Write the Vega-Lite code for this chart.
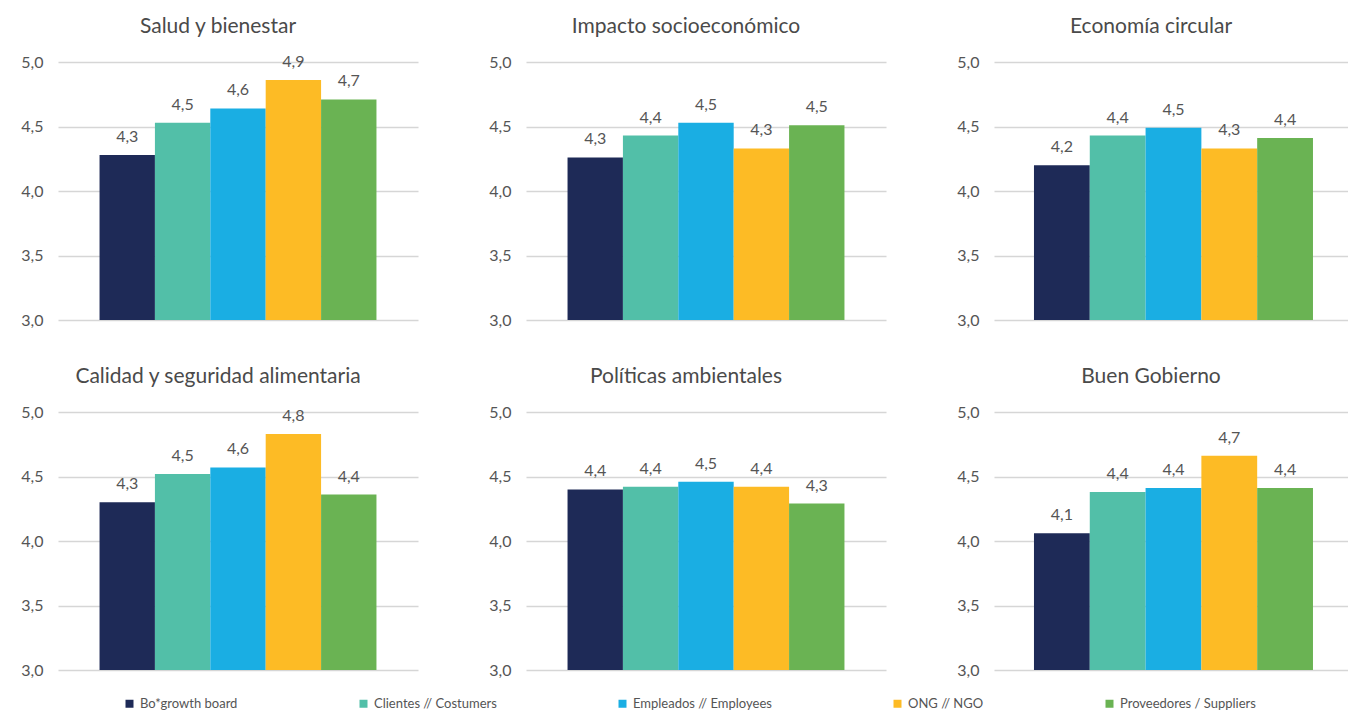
{
  "$schema": "https://vega.github.io/schema/vega-lite/v6.json",
  "padding": {"left": 18, "top": 16, "right": 0, "bottom": 0},
  "background": "#ffffff",
  "data": {
    "values": [
      {"tema": "Salud y bienestar", "grupo": "Bo*growth board", "valor": 4.28},
      {"tema": "Salud y bienestar", "grupo": "Clientes // Costumers", "valor": 4.53},
      {"tema": "Salud y bienestar", "grupo": "Empleados // Employees", "valor": 4.64},
      {"tema": "Salud y bienestar", "grupo": "ONG // NGO", "valor": 4.86},
      {"tema": "Salud y bienestar", "grupo": "Proveedores / Suppliers", "valor": 4.71},
      {"tema": "Impacto socioeconómico", "grupo": "Bo*growth board", "valor": 4.26},
      {"tema": "Impacto socioeconómico", "grupo": "Clientes // Costumers", "valor": 4.43},
      {"tema": "Impacto socioeconómico", "grupo": "Empleados // Employees", "valor": 4.53},
      {"tema": "Impacto socioeconómico", "grupo": "ONG // NGO", "valor": 4.33},
      {"tema": "Impacto socioeconómico", "grupo": "Proveedores / Suppliers", "valor": 4.51},
      {"tema": "Economía circular", "grupo": "Bo*growth board", "valor": 4.2},
      {"tema": "Economía circular", "grupo": "Clientes // Costumers", "valor": 4.43},
      {"tema": "Economía circular", "grupo": "Empleados // Employees", "valor": 4.49},
      {"tema": "Economía circular", "grupo": "ONG // NGO", "valor": 4.33},
      {"tema": "Economía circular", "grupo": "Proveedores / Suppliers", "valor": 4.41},
      {"tema": "Calidad y seguridad alimentaria", "grupo": "Bo*growth board", "valor": 4.3},
      {"tema": "Calidad y seguridad alimentaria", "grupo": "Clientes // Costumers", "valor": 4.52},
      {"tema": "Calidad y seguridad alimentaria", "grupo": "Empleados // Employees", "valor": 4.57},
      {"tema": "Calidad y seguridad alimentaria", "grupo": "ONG // NGO", "valor": 4.83},
      {"tema": "Calidad y seguridad alimentaria", "grupo": "Proveedores / Suppliers", "valor": 4.36},
      {"tema": "Políticas ambientales", "grupo": "Bo*growth board", "valor": 4.4},
      {"tema": "Políticas ambientales", "grupo": "Clientes // Costumers", "valor": 4.42},
      {"tema": "Políticas ambientales", "grupo": "Empleados // Employees", "valor": 4.46},
      {"tema": "Políticas ambientales", "grupo": "ONG // NGO", "valor": 4.42},
      {"tema": "Políticas ambientales", "grupo": "Proveedores / Suppliers", "valor": 4.29},
      {"tema": "Buen Gobierno", "grupo": "Bo*growth board", "valor": 4.06},
      {"tema": "Buen Gobierno", "grupo": "Clientes // Costumers", "valor": 4.38},
      {"tema": "Buen Gobierno", "grupo": "Empleados // Employees", "valor": 4.41},
      {"tema": "Buen Gobierno", "grupo": "ONG // NGO", "valor": 4.66},
      {"tema": "Buen Gobierno", "grupo": "Proveedores / Suppliers", "valor": 4.41}
    ]
  },
  "columns": 3,
  "spacing": {"column": 68, "row": 38},
  "concat": [
    {
      "title": "Salud y bienestar",
      "width": 360, "height": 258,
      "transform": [{"filter": "datum.tema === 'Salud y bienestar'"}],
      "encoding": {
        "x": {"field": "grupo", "type": "nominal", "sort": null, "axis": null, "scale": {"paddingInner": 0, "paddingOuter": 0.75}},
        "y": {"field": "valor", "type": "quantitative", "scale": {"domain": [3, 5], "zero": false}, "axis": {"values": [3, 3.5, 4, 4.5, 5], "format": ".1f", "title": null}}
      },
      "layer": [
        {"mark": "bar", "encoding": {"y2": {"datum": 3}, "color": {"field": "grupo", "type": "nominal", "sort": null,
          "scale": {"domain": ["Bo*growth board", "Clientes // Costumers", "Empleados // Employees", "ONG // NGO", "Proveedores / Suppliers"], "range": ["#1e2a57", "#52bfa8", "#1aaee3", "#fdbb25", "#6ab353"]},
          "legend": {"orient": "none", "legendX": 65, "legendY": 635, "direction": "horizontal", "title": null, "symbolType": "square", "symbolSize": 64, "symbolStrokeWidth": 0, "labelFontSize": 13, "labelColor": "#555555", "labelOffset": 4, "columnPadding": 119}}}},
        {"mark": {"type": "text", "dy": -13, "baseline": "alphabetic"}, "encoding": {"text": {"field": "valor", "type": "quantitative", "format": ".1f"}}}
      ]
    },
    {
      "title": "Impacto socioeconómico",
      "width": 360, "height": 258,
      "transform": [{"filter": "datum.tema === 'Impacto socioeconómico'"}],
      "encoding": {
        "x": {"field": "grupo", "type": "nominal", "sort": null, "axis": null, "scale": {"paddingInner": 0, "paddingOuter": 0.75}},
        "y": {"field": "valor", "type": "quantitative", "scale": {"domain": [3, 5], "zero": false}, "axis": {"values": [3, 3.5, 4, 4.5, 5], "format": ".1f", "title": null}}
      },
      "layer": [
        {"mark": "bar", "encoding": {"y2": {"datum": 3}, "color": {"field": "grupo", "type": "nominal", "sort": null}}},
        {"mark": {"type": "text", "dy": -13, "baseline": "alphabetic"}, "encoding": {"text": {"field": "valor", "type": "quantitative", "format": ".1f"}}}
      ]
    },
    {
      "title": "Economía circular",
      "width": 354, "height": 258,
      "transform": [{"filter": "datum.tema === 'Economía circular'"}],
      "encoding": {
        "x": {"field": "grupo", "type": "nominal", "sort": null, "axis": null, "scale": {"paddingInner": 0, "paddingOuter": 0.672, "align": 0.533}},
        "y": {"field": "valor", "type": "quantitative", "scale": {"domain": [3, 5], "zero": false}, "axis": {"values": [3, 3.5, 4, 4.5, 5], "format": ".1f", "title": null}}
      },
      "layer": [
        {"mark": "bar", "encoding": {"y2": {"datum": 3}, "color": {"field": "grupo", "type": "nominal", "sort": null}}},
        {"mark": {"type": "text", "dy": -13, "baseline": "alphabetic"}, "encoding": {"text": {"field": "valor", "type": "quantitative", "format": ".1f"}}}
      ]
    },
    {
      "title": "Calidad y seguridad alimentaria",
      "width": 360, "height": 258,
      "transform": [{"filter": "datum.tema === 'Calidad y seguridad alimentaria'"}],
      "encoding": {
        "x": {"field": "grupo", "type": "nominal", "sort": null, "axis": null, "scale": {"paddingInner": 0, "paddingOuter": 0.75}},
        "y": {"field": "valor", "type": "quantitative", "scale": {"domain": [3, 5], "zero": false}, "axis": {"values": [3, 3.5, 4, 4.5, 5], "format": ".1f", "title": null}}
      },
      "layer": [
        {"mark": "bar", "encoding": {"y2": {"datum": 3}, "color": {"field": "grupo", "type": "nominal", "sort": null}}},
        {"mark": {"type": "text", "dy": -13, "baseline": "alphabetic"}, "encoding": {"text": {"field": "valor", "type": "quantitative", "format": ".1f"}}}
      ]
    },
    {
      "title": "Políticas ambientales",
      "width": 360, "height": 258,
      "transform": [{"filter": "datum.tema === 'Políticas ambientales'"}],
      "encoding": {
        "x": {"field": "grupo", "type": "nominal", "sort": null, "axis": null, "scale": {"paddingInner": 0, "paddingOuter": 0.75}},
        "y": {"field": "valor", "type": "quantitative", "scale": {"domain": [3, 5], "zero": false}, "axis": {"values": [3, 3.5, 4, 4.5, 5], "format": ".1f", "title": null}}
      },
      "layer": [
        {"mark": "bar", "encoding": {"y2": {"datum": 3}, "color": {"field": "grupo", "type": "nominal", "sort": null}}},
        {"mark": {"type": "text", "dy": -13, "baseline": "alphabetic"}, "encoding": {"text": {"field": "valor", "type": "quantitative", "format": ".1f"}}}
      ]
    },
    {
      "title": "Buen Gobierno",
      "width": 354, "height": 258,
      "transform": [{"filter": "datum.tema === 'Buen Gobierno'"}],
      "encoding": {
        "x": {"field": "grupo", "type": "nominal", "sort": null, "axis": null, "scale": {"paddingInner": 0, "paddingOuter": 0.672, "align": 0.533}},
        "y": {"field": "valor", "type": "quantitative", "scale": {"domain": [3, 5], "zero": false}, "axis": {"values": [3, 3.5, 4, 4.5, 5], "format": ".1f", "title": null}}
      },
      "layer": [
        {"mark": "bar", "encoding": {"y2": {"datum": 3}, "color": {"field": "grupo", "type": "nominal", "sort": null}}},
        {"mark": {"type": "text", "dy": -13, "baseline": "alphabetic"}, "encoding": {"text": {"field": "valor", "type": "quantitative", "format": ".1f"}}}
      ]
    }
  ],
  "config": {
    "font": "Lato",
    "locale": {"number": {"decimal": ",", "thousands": ".", "grouping": [3], "currency": ["", " €"]}},
    "view": {"stroke": null},
    "title": {"fontSize": 21, "fontWeight": "normal", "color": "#4a4a4a", "frame": "bounds", "anchor": "middle", "offset": 17},
    "axisY": {"domain": false, "ticks": false, "labelPadding": 15, "labelFontSize": 16, "labelColor": "#555555", "gridColor": "#d6d6d6", "gridWidth": 1.5, "minExtent": 40, "maxExtent": 40},
    "text": {"fontSize": 16, "color": "#555555"},
    "legend": {"labelFont": "Lato"}
  }
}
